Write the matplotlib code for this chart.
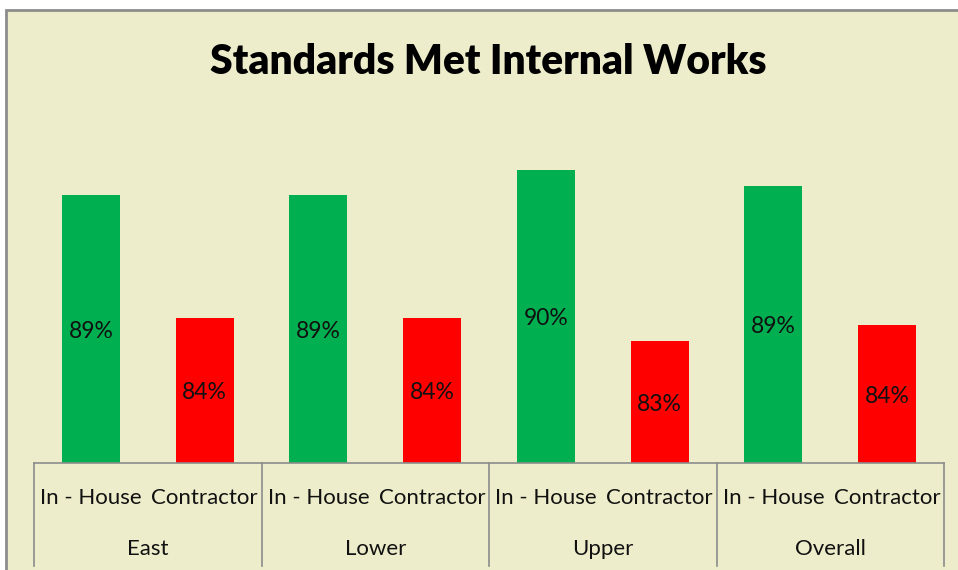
import numpy as np
import matplotlib
matplotlib.use('Agg')
import matplotlib.pyplot as plt
from matplotlib.patches import Rectangle
from matplotlib.transforms import blended_transform_factory, offset_copy

groups = ['East', 'Lower', 'Upper', 'Overall']
series = ['In - House', 'Contractor']
in_house = [88.94, 88.94, 89.96, 89.31]
contractor = [83.92, 83.92, 82.98, 83.63]
colors = ['#00B050', '#FF0000']

W, H = 958, 570
BG = '#EEEDCB'
LINE = '#8C8C8C'
FONT = ['Lato', 'DejaVu Sans']


def fy(pix):
    return 1 - pix / H


def main():
    plt.rcParams['font.family'] = FONT
    fig = plt.figure(figsize=(W / 100, H / 100), dpi=100)
    fig.patch.set_facecolor('white')
    fig.patches.append(Rectangle((6 / W, fy(572)), 1.0, (572 - 10) / H,
                                 transform=fig.transFigure, facecolor=BG,
                                 edgecolor=LINE, linewidth=2, zorder=-5))

    ax = fig.add_axes([34 / W, fy(463), (944 - 34) / W, (463 - 120) / H])
    ax.set_facecolor('none')
    ax.set_zorder(2)

    x = np.arange(len(groups) * 2)
    values = []
    bar_colors = []
    labels = []
    for ih, co in zip(in_house, contractor):
        values += [ih, co]
        bar_colors += colors
        labels += series
    ymin = 78
    bars = ax.bar(x, np.array(values) - ymin, bottom=ymin, width=0.51,
                  color=bar_colors)
    lab_tr = offset_copy(ax.transData, fig=fig, x=0, y=-2.5, units='dots')
    for b, v in zip(bars, values):
        ax.text(b.get_x() + b.get_width() / 2, (ymin + v) / 2,
                '%d%%' % round(v), ha='center', va='center',
                fontsize=16.5, color='#111111', transform=lab_tr)

    ax.set_xlim(-0.5, len(x) - 0.5)
    ax.set_ylim(ymin, 92)
    ax.set_xticks([])
    ax.set_yticks([])
    for s in ['top', 'left', 'right']:
        ax.spines[s].set_visible(False)
    ax.spines['bottom'].set_color(LINE)
    ax.spines['bottom'].set_linewidth(1.2)

    tr = blended_transform_factory(ax.transData, fig.transFigure)
    for xi, lab in zip(x, labels):
        fig.text(xi, fy(498), lab, transform=tr, ha='center', va='center',
                 fontsize=16, color='#111111')
    for i, g in enumerate(groups):
        fig.text(2 * i + 0.5, fy(549), g, transform=tr, ha='center',
                 va='center', fontsize=16, color='#111111')
    for xb in np.arange(len(groups) + 1) * 2 - 0.5:
        fig.lines.append(plt.Line2D([xb, xb], [fy(463), fy(566)],
                                    transform=tr, color=LINE, linewidth=1.2))

    fig.text(488 / W, fy(62), 'Standards Met Internal Works', ha='center',
             va='center', fontsize=29.3, fontweight='heavy', color='black')

    fig.savefig('out.png', dpi=100, facecolor=fig.get_facecolor())


if __name__ == '__main__':
    main()
